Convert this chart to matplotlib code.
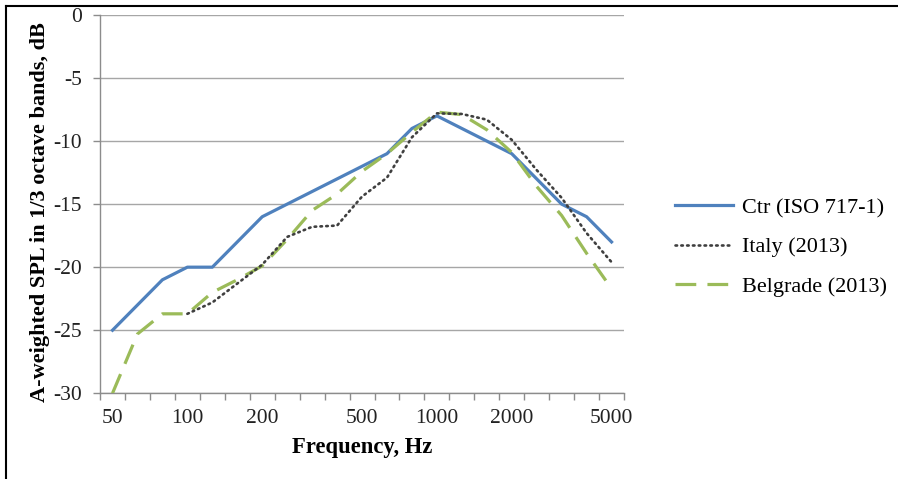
import numpy as np
import matplotlib; matplotlib.use("Agg")
import matplotlib.pyplot as plt
from matplotlib.lines import Line2D

plt.rcParams['font.family'] = ['Liberation Serif', 'DejaVu Serif']
plt.rcParams['axes.unicode_minus'] = False

# 1/3 octave band centre frequencies (Hz), plotted as categories like Excel
bands = [50, 63, 80, 100, 125, 160, 200, 250, 315, 400, 500, 630, 800,
         1000, 1250, 1600, 2000, 2500, 3150, 4000, 5000]
shown = [50, 100, 200, 500, 1000, 2000, 5000]

ctr = [-25, -23, -21, -20, -20, -18, -16, -15, -14, -13, -12, -11, -9,
       -8, -9, -10, -11, -13, -15, -16, -18]
italy = [np.nan, np.nan, np.nan, -23.7, -22.8, -21.3, -19.8, -17.6, -16.8, -16.7,
         -14.4, -12.9, -9.7, -7.8, -7.85, -8.3, -9.9, -12.3, -14.5, -17.3, -19.6]
belgrade = [-30, -25.3, -23.7, -23.7, -22.0, -21.0, -19.9, -17.8, -15.5, -14.2,
            -12.4, -11.0, -9.3, -7.7, -7.9, -9.1, -10.9, -13.6, -15.9, -18.9, -21.7]

xs = np.arange(len(bands))

fig = plt.figure(figsize=(8.98, 4.79), dpi=100)
ax = fig.add_axes([0.1114, 0.179, 0.5835, 0.7897])

ax.plot(xs, ctr, color='#4f81bd', lw=2.3, label='Ctr (ISO 717-1)', zorder=3)
ax.plot(xs, italy, color='#3f3f3f', lw=1.9, ls=(0, (0.6, 1.6)),
        dash_capstyle='round', label='Italy (2013)', zorder=4)
ax.plot(xs, belgrade, color='#9bbb59', lw=2.3, ls=(0, (6.5, 3.5)),
        label='Belgrade (2013)', zorder=3)

ax.set_xlim(-0.5, len(bands) - 0.5)
ax.set_ylim(-30, 0)
ax.set_yticks(np.arange(-30, 1, 5))
ax.yaxis.grid(True, color='#a6a6a6', lw=1.0)
ax.set_axisbelow(True)

ax.set_xticks([bands.index(b) for b in shown])
ax.set_xticklabels([str(b) for b in shown])
ax.set_xticks(np.arange(-0.5, len(bands), 1), minor=True)
ax.tick_params(axis='x', which='major', length=0, pad=11, labelsize=15.5, labelcolor='#222222')
ax.tick_params(axis='x', which='minor', length=5, color='#8c8c8c', width=1)
ax.tick_params(axis='y', length=5, color='#8c8c8c', width=1, pad=8,
               labelsize=15.5, labelcolor='#222222')

for s in ['top', 'right']:
    ax.spines[s].set_visible(False)
for s in ['left', 'bottom']:
    ax.spines[s].set_color('#8c8c8c')
    ax.spines[s].set_linewidth(1)

ax.set_xlabel('Frequency, Hz', fontsize=16.3, fontweight='bold', labelpad=7)
ax.set_ylabel('A-weighted SPL in 1/3 octave bands, dB', fontsize=16,
              fontweight='bold')
ax.yaxis.set_label_coords(-0.096, 0.478)

fig.legend(loc='center left', bbox_to_anchor=(0.752, 0.484), frameon=False,
           fontsize=16, handlelength=2.6, handletextpad=0.4, labelspacing=0.85,
           borderpad=0, borderaxespad=0)

# thin black frame around the chart (left and top edges visible)
fig.add_artist(Line2D([0.0072, 0.0072], [0, 0.987], color='black', lw=1.5,
                      transform=fig.transFigure))
fig.add_artist(Line2D([0.0072, 1], [0.987, 0.987], color='black', lw=1.5,
                      transform=fig.transFigure))

fig.savefig('out.png', dpi=100)
